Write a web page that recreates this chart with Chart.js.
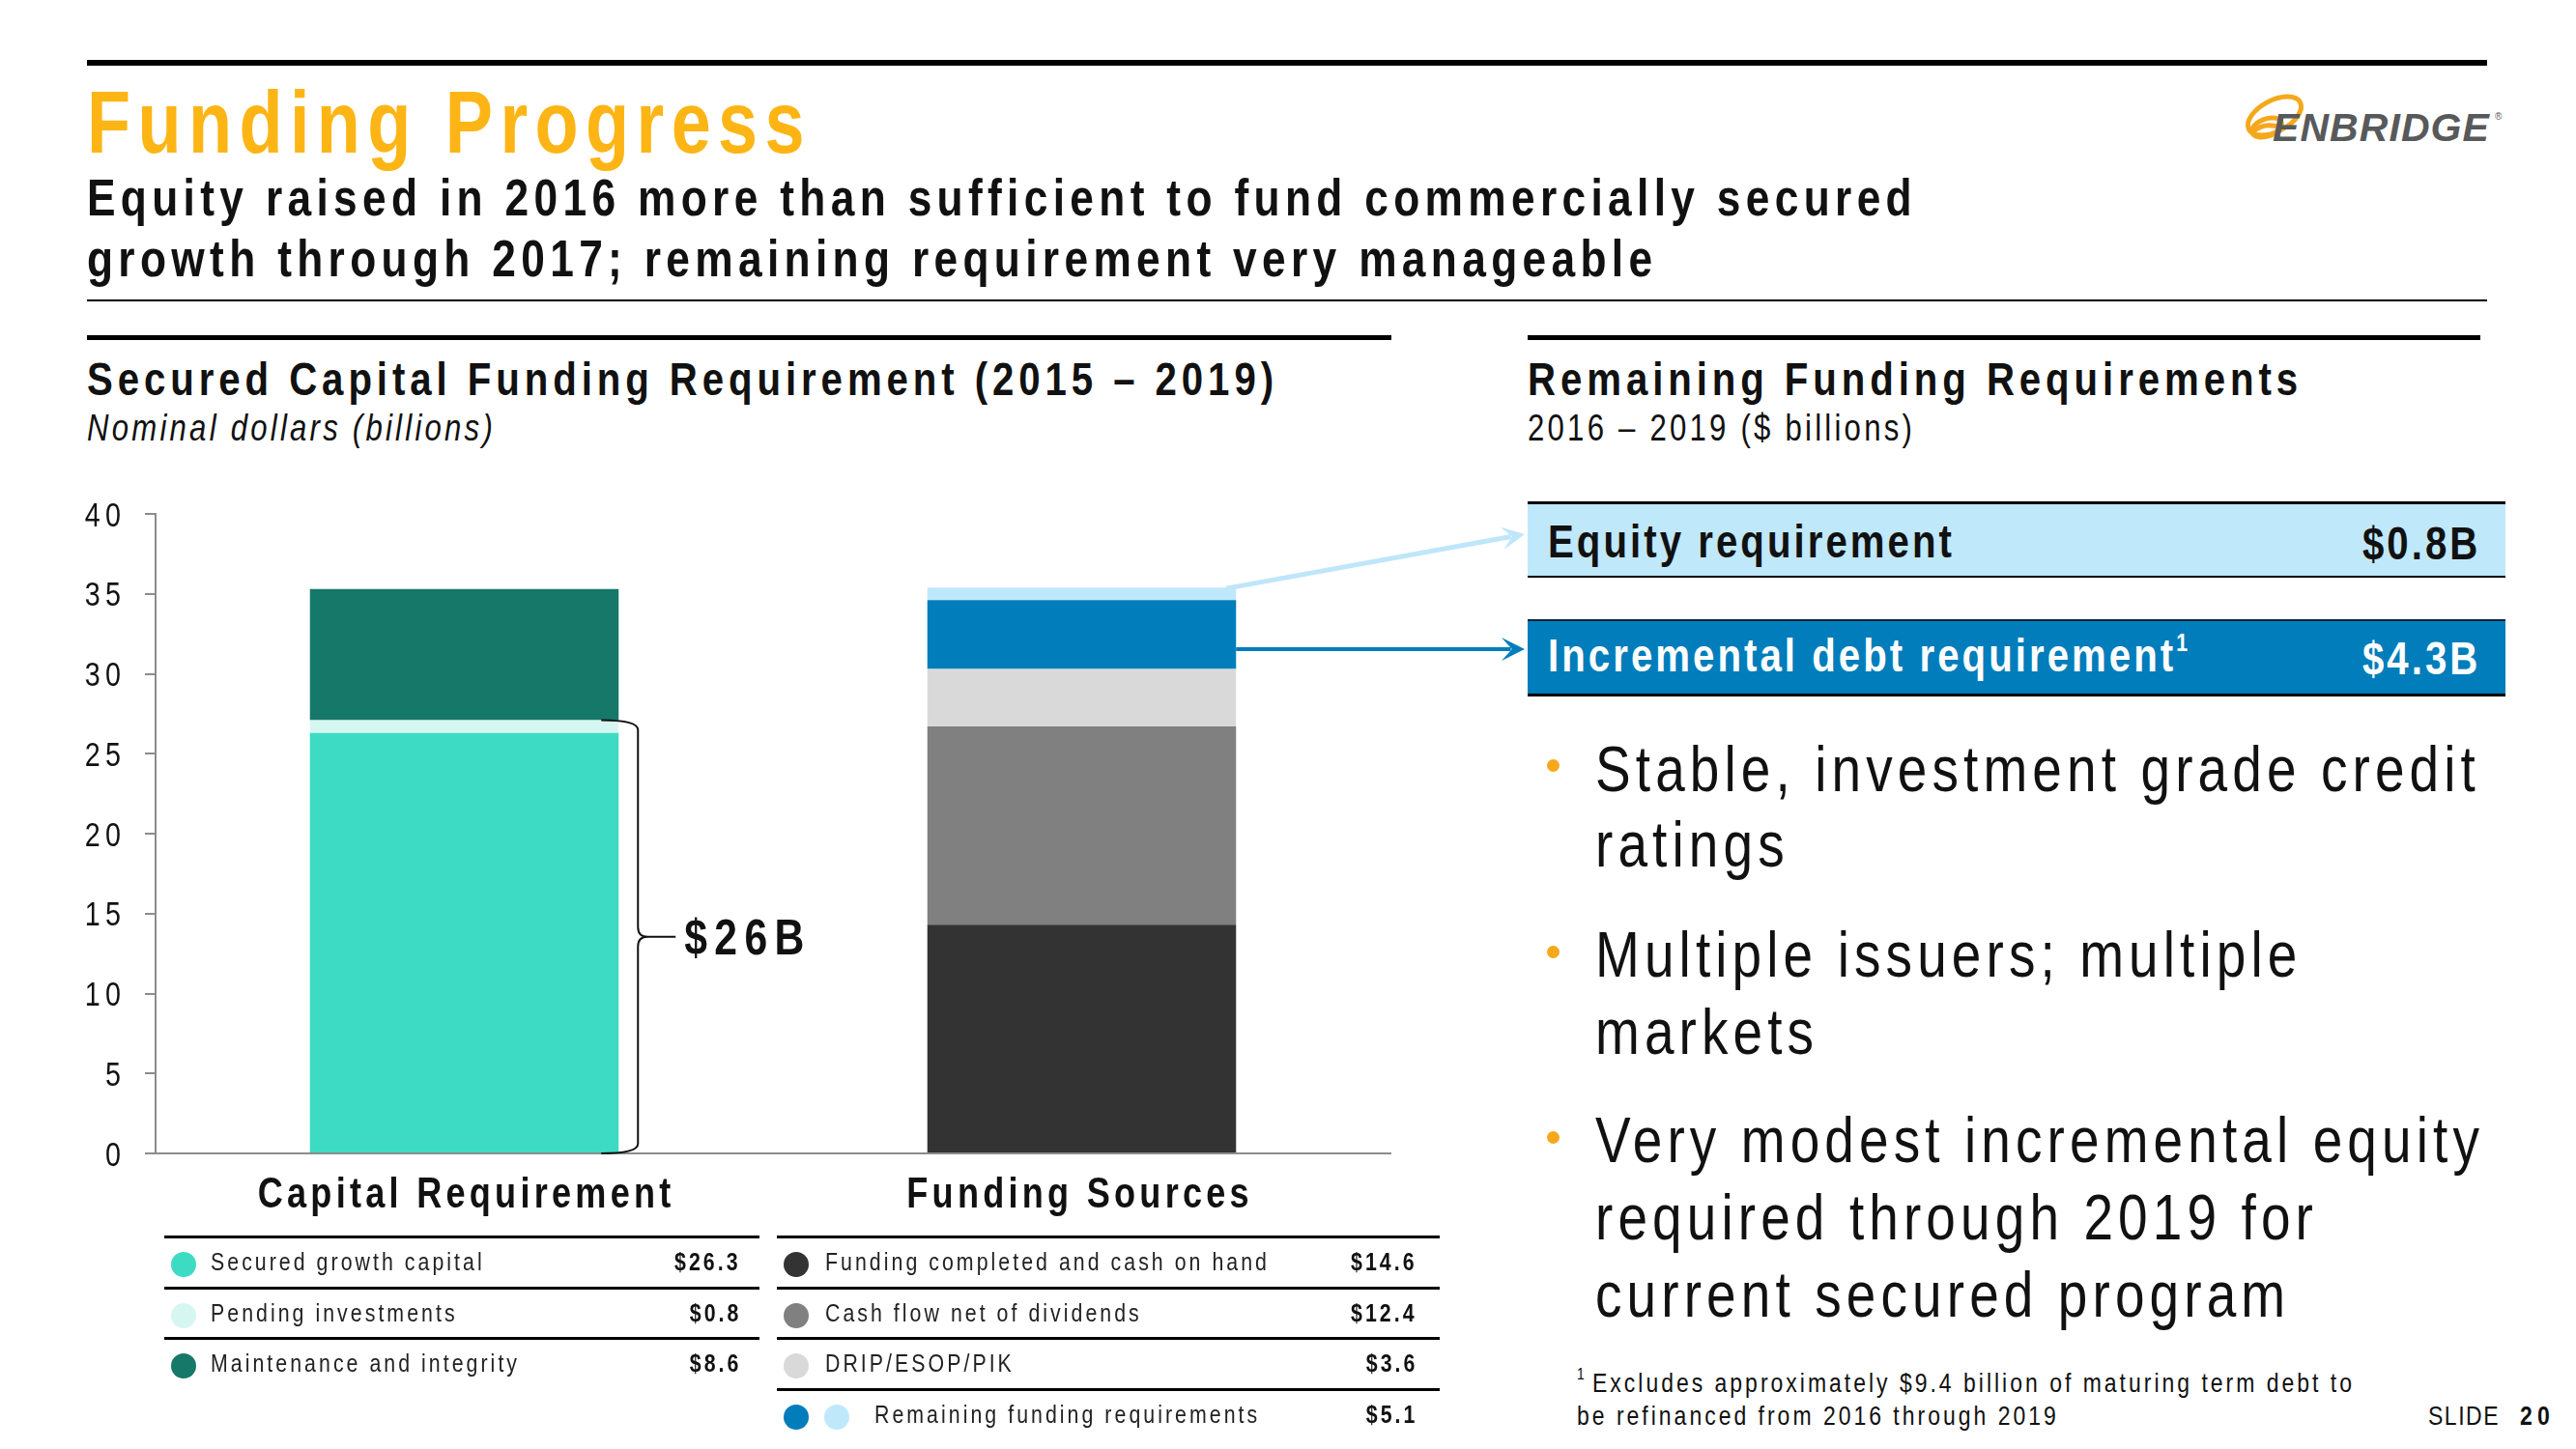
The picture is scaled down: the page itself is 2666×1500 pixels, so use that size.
<!DOCTYPE html>
<html>
<head>
<meta charset="utf-8">
<title>Funding Progress</title>
<script src="https://cdn.jsdelivr.net/npm/chart.js@4.4.1/dist/chart.umd.min.js"></script>
<style>
  html, body { margin: 0; padding: 0; background: #fff; }
  body {
    width: 2666px; height: 1500px; position: relative; overflow: hidden; color: #111;
    font-family: "Liberation Sans", Arial, sans-serif;
  }
  .t { position: absolute; white-space: nowrap; line-height: 1; }
  /* Arial Narrow look: squeeze Liberation Sans horizontally */
  .n { transform: scaleX(0.82); transform-origin: 0 0; }
  .n.r { transform-origin: 100% 0; }
  .b { font-weight: bold; }
  .rule { position: absolute; background: #000; }
  .box { position: absolute; left: 1581px; width: 1012px; box-sizing: border-box; }
  .dot { position: absolute; width: 26px; height: 26px; border-radius: 50%; top: 14px; }
  .row { position: absolute; left: 0; right: 0; height: 52px; border-top: 3px solid #000; box-sizing: border-box; }
  .row .t { top: 11px; font-size: 26px; }
  .bullet { position: absolute; width: 13px; height: 13px; border-radius: 50%; background: #F5A81C; left: 1601px; }
</style>
</head>
<body>

<!-- header -->
<div class="rule" style="left:90px;top:62px;width:2484px;height:6px"></div>
<span class="t n b" data-g="title" data-w="750" style="left:90px;top:82px;font-size:90px;color:#FDB515">Funding Progress</span>
<span class="t n b" data-g="sub" data-w="1894" style="left:90px;top:177px;font-size:54px">Equity raised in 2016 more than sufficient to fund commercially secured</span>
<span class="t n b" data-g="sub" style="left:90px;top:240px;font-size:54px">growth through 2017; remaining requirement very manageable</span>
<div class="rule" style="left:90px;top:310px;width:2484px;height:2px"></div>

<!-- logo -->
<svg style="position:absolute;left:2316px;top:92px" width="72" height="64" viewBox="0 0 72 64">
  <g fill="none" stroke="#F5A81C" stroke-width="5">
    <ellipse cx="38" cy="28" rx="30" ry="16" transform="rotate(-28 38 28)"/>
    <ellipse cx="30" cy="40" rx="16" ry="9" transform="rotate(-20 30 40)"/>
    <path d="M16 44 Q28 34 44 40"/>
  </g>
</svg>
<span class="t b" data-g="logo" data-w="225" style="left:2352px;top:112px;font-size:41px;color:#58595B;font-style:italic">ENBRIDGE</span>
<span class="t" style="left:2582px;top:116px;font-size:10px;color:#58595B">®</span>

<!-- section headers -->
<div class="rule" style="left:90px;top:347px;width:1350px;height:5px"></div>
<div class="rule" style="left:1581px;top:347px;width:986px;height:5px"></div>
<span class="t n b" data-g="head" data-w="1233" style="left:90px;top:368px;font-size:49px">Secured Capital Funding Requirement (2015 – 2019)</span>
<span class="t n" data-g="unit" data-w="423" style="left:90px;top:424px;font-size:38px;font-style:italic">Nominal dollars (billions)</span>
<span class="t n b" data-g="head" style="left:1581px;top:368px;font-size:49px">Remaining Funding Requirements</span>
<span class="t n" data-g="unit" style="left:1581px;top:424px;font-size:38px">2016 – 2019 ($ billions)</span>

<!-- chart -->
<div id="chartWrap" style="position:absolute;left:0;top:500px;width:1581px;height:780px">
  <canvas id="chartFunding"></canvas>
</div>

<!-- legend tables -->
<div id="tableCapital" style="position:absolute;left:170px;top:1279px;width:616px;height:160px"></div>
<div id="tableFunding" style="position:absolute;left:804px;top:1279px;width:686px;height:212px"></div>

<!-- remaining requirement boxes -->
<div class="box" id="boxEq" style="top:519px;height:79px;background:#C0E8FB;border-top:3px solid #000;border-bottom:2px solid #000"></div>
<div class="box" id="boxDebt" style="top:641px;height:80px;background:#007DBA;border-top:2px solid #0b2238;border-bottom:3px solid #000"></div>

<!-- bullets -->
<div class="bullet" style="top:786px"></div>
<div class="bullet" style="top:979px"></div>
<div class="bullet" style="top:1171px"></div>
<span class="t n" data-g="bul" data-w="916" style="left:1651px;top:762px;font-size:67px">Stable, investment grade credit</span>
<span class="t n" data-g="bul" style="left:1651px;top:840px;font-size:67px">ratings</span>
<span class="t n" data-g="bul" style="left:1651px;top:954px;font-size:67px">Multiple issuers; multiple</span>
<span class="t n" data-g="bul" style="left:1651px;top:1034px;font-size:67px">markets</span>
<span class="t n" data-g="bul" style="left:1651px;top:1146px;font-size:67px">Very modest incremental equity</span>
<span class="t n" data-g="bul" style="left:1651px;top:1226px;font-size:67px">required through 2019 for</span>
<span class="t n" data-g="bul" style="left:1651px;top:1306px;font-size:67px">current secured program</span>

<!-- footnote -->
<span class="t n" style="left:1632px;top:1414px;font-size:17px">1</span>
<span class="t n" data-g="foot" data-w="789" style="left:1648px;top:1418px;font-size:28px">Excludes approximately $9.4 billion of maturing term debt to</span>
<span class="t n" data-g="foot" style="left:1632px;top:1452px;font-size:28px">be refinanced from 2016 through 2019</span>
<span class="t n" data-g="slide" data-w="74" style="left:2513px;top:1452px;font-size:28px">SLIDE</span>
<span class="t n b" data-g="page" data-w="36" style="left:2608px;top:1452px;font-size:28px">20</span>

<script>
// ---- data ----
const categories = ["Capital Requirement", "Funding Sources"];

const capitalNames  = ["Secured growth capital", "Pending investments", "Maintenance and integrity"];
const capitalValues = [26.3, 0.8, 8.2];
const capitalTable  = ["$26.3", "$0.8", "$8.6"];

const fundingNames  = ["Funding completed and cash on hand", "Cash flow net of dividends", "DRIP/ESOP/PIK",
                       "Incremental debt requirement", "Equity requirement"];
const fundingValues = [14.3, 12.4, 3.6, 4.3, 0.8];
const fundingRows   = ["Funding completed and cash on hand", "Cash flow net of dividends", "DRIP/ESOP/PIK",
                       "Remaining funding requirements"];
const fundingTable  = ["$14.6", "$12.4", "$3.6", "$5.1"];

const remainingNames  = ["Equity requirement", "Incremental debt requirement"];
const remainingValues = ["$0.8B", "$4.3B"];

const braceLabel = "$26B";
const yTicks = { min: 0, max: 40, step: 5 };

// ---- palette ----
const FONT = '"Liberation Sans", Arial, sans-serif';
const NARROW = 0.82;
const capitalColors = ["#3DDBC3", "#D6F7F1", "#167868"];
const fundingColors = ["#333333", "#808080", "#D9D9D9", "#007DBA", "#C0E8FB"];

// ---- tables ----
function buildTable(el, rows, values, dotSets, valueRight) {
  rows.forEach((label, i) => {
    const r = document.createElement("div");
    r.className = "row";
    r.style.top = (i * 52.7) + "px";
    let html = "";
    dotSets[i].forEach((c, k) => { html += `<div class="dot" style="left:${7 + k * 42}px;background:${c}"></div>`; });
    const lx = dotSets[i].length > 1 ? 101 : (el.id === "tableCapital" ? 48 : 50);
    html += `<span class="t n" data-g="tab" style="left:${lx}px;color:#222">${label}</span>`;
    html += `<span class="t n r b" data-g="tab" style="right:${valueRight}px">${values[i]}</span>`;
    r.innerHTML = html;
    el.appendChild(r);
  });
}
buildTable(document.getElementById("tableCapital"), capitalNames, capitalTable,
  capitalColors.map((c) => [c]), 19);
buildTable(document.getElementById("tableFunding"), fundingRows, fundingTable,
  [[fundingColors[0]], [fundingColors[1]], [fundingColors[2]], [fundingColors[3], fundingColors[4]]], 23);
document.querySelector("#tableFunding .row span").setAttribute("data-w", "460");

// boxes
const boxEq = document.getElementById("boxEq");
const boxDebt = document.getElementById("boxDebt");
boxEq.innerHTML =
  `<span class="t n b" data-g="box" data-w="421" style="left:21px;top:14px;font-size:49px">${remainingNames[0]}</span>` +
  `<span class="t n r b" data-g="box" style="right:26px;top:16px;font-size:49px">${remainingValues[0]}</span>`;
boxDebt.innerHTML =
  `<span class="t n b" data-g="box" style="left:21px;top:11px;font-size:49px;color:#fff">${remainingNames[1]}<sup style="font-size:26px;vertical-align:top;position:relative;top:-2px">1</sup></span>` +
  `<span class="t n r b" data-g="box" style="right:26px;top:14px;font-size:49px;color:#fff">${remainingValues[1]}</span>`;

// ---- letter spacing to match the slide's expanded text ----
document.querySelectorAll("[data-w]").forEach((ref) => {
  ref.style.letterSpacing = "0px";
  const k = ref.classList.contains("n") ? NARROW : 1;
  const w0 = ref.getBoundingClientRect().width;
  const ls = (parseFloat(ref.dataset.w) - w0) / (ref.textContent.length * k);
  document.querySelectorAll(`[data-g="${ref.dataset.g}"]`).forEach((el) => { el.style.letterSpacing = ls + "px"; });
});

// ---- chart ----
const blank = (i, v) => categories.map((_, k) => (k === i ? v : null));
const datasets = [
  ...capitalNames.map((n, i) => ({ label: n, data: blank(0, capitalValues[i]), backgroundColor: capitalColors[i] })),
  ...fundingNames.map((n, i) => ({ label: n, data: blank(1, fundingValues[i]), backgroundColor: fundingColors[i] })),
];

// narrow, letter-spaced canvas text; align: left | center | right
function narrowText(ctx, text, x, y, font, ls, align) {
  ctx.save();
  ctx.font = font;
  ctx.letterSpacing = ls + "px";
  ctx.textAlign = "left";
  const w = (ctx.measureText(text).width - ls) * NARROW;
  const x0 = align === "center" ? x - w / 2 : align === "right" ? x - w : x;
  ctx.translate(x0, y);
  ctx.scale(NARROW, 1);
  ctx.fillText(text, 0, 0);
  ctx.restore();
}

function drawArrow(ctx, x0, y0, x1, y1, color, w) {
  const a = Math.atan2(y1 - y0, x1 - x0);
  const L = 24, H = 12;
  ctx.strokeStyle = color; ctx.lineWidth = w;
  ctx.beginPath();
  ctx.moveTo(x0, y0);
  ctx.lineTo(x1 - L * 0.6 * Math.cos(a), y1 - L * 0.6 * Math.sin(a));
  ctx.stroke();
  ctx.save();
  ctx.translate(x1, y1); ctx.rotate(a);
  ctx.fillStyle = color;
  ctx.beginPath();
  ctx.moveTo(0, 0); ctx.lineTo(-L, -H); ctx.lineTo(-L * 0.55, 0); ctx.lineTo(-L, H);
  ctx.closePath(); ctx.fill();
  ctx.restore();
}

const annotate = {
  id: "annotate",
  afterDraw(chart) {
    const ctx = chart.ctx, x = chart.scales.x, y = chart.scales.y;
    ctx.save();
    ctx.fillStyle = "#111"; ctx.textBaseline = "alphabetic";

    // axis labels
    y.ticks.forEach((t) => {
      narrowText(ctx, String(t.value), 125, y.getPixelForValue(t.value) + 12.5, "35px " + FONT, 6.5, "right");
    });
    categories.forEach((c, i) => {
      narrowText(ctx, c, x.getPixelForTick(i) - 4 * i, y.bottom + 56, "bold 44px " + FONT, 5.2, "center");
    });

    // brace over secured + pending capital
    const bar = chart.getDatasetMeta(0).data[0];
    const xr = bar.x + bar.width / 2;
    const yTop = y.getPixelForValue(capitalValues[0] + capitalValues[1]);
    const yBot = y.getPixelForValue(0);
    const ym = (yTop + yBot) / 2;
    const xb = xr + 20, r = 10;
    ctx.strokeStyle = "#111"; ctx.lineWidth = 2;
    ctx.beginPath();
    ctx.moveTo(xr - 18, yTop);
    ctx.quadraticCurveTo(xb, yTop, xb, yTop + r);
    ctx.lineTo(xb, ym - r);
    ctx.quadraticCurveTo(xb, ym, xb + r, ym);
    ctx.lineTo(xr + 59, ym);
    ctx.moveTo(xb + r, ym);
    ctx.quadraticCurveTo(xb, ym, xb, ym + r);
    ctx.lineTo(xb, yBot - r);
    ctx.quadraticCurveTo(xb, yBot, xr - 18, yBot);
    ctx.stroke();
    narrowText(ctx, braceLabel, xr + 68, ym + 18.5, "bold 52px " + FONT, 9, "left");

    // arrows to the remaining-requirement boxes
    const wrapTop = document.getElementById("chartWrap").offsetTop;
    const endX = chart.width - 3;
    const eq = chart.getDatasetMeta(datasets.length - 1).data[1];
    const debt = chart.getDatasetMeta(datasets.length - 2).data[1];
    drawArrow(ctx, eq.x + eq.width / 2 - 10, eq.y + 1, endX, boxEq.offsetTop - wrapTop + 34, "#BFE6FA", 5);
    drawArrow(ctx, debt.x + debt.width / 2, boxDebt.offsetTop - wrapTop + 31, endX, boxDebt.offsetTop - wrapTop + 31, "#007DBA", 4);

    ctx.restore();
  },
};

new Chart(document.getElementById("chartFunding").getContext("2d"), {
  type: "bar",
  data: { labels: categories, datasets },
  options: {
    responsive: true,
    maintainAspectRatio: false,
    animation: false,
    datasets: { bar: { categoryPercentage: 1, barPercentage: 0.5, borderWidth: 0 } },
    layout: { padding: { left: 0, right: 142, top: 32, bottom: 0 } },
    plugins: { legend: { display: false }, tooltip: { enabled: false } },
    scales: {
      x: {
        stacked: true,
        grid: { display: false, drawTicks: false },
        border: { color: "#8C8C8C", width: 2 },
        ticks: { display: false },
        afterFit: (s) => { s.height = 86; },
      },
      y: {
        stacked: true,
        min: yTicks.min, max: yTicks.max,
        grid: { drawOnChartArea: false, drawTicks: true, tickLength: 11, color: "#8C8C8C", lineWidth: 2 },
        border: { color: "#8C8C8C", width: 2 },
        ticks: { display: false, stepSize: yTicks.step },
        afterFit: (s) => { s.width = 161; },
      },
    },
  },
  plugins: [annotate],
});
</script>
</body>
</html>
